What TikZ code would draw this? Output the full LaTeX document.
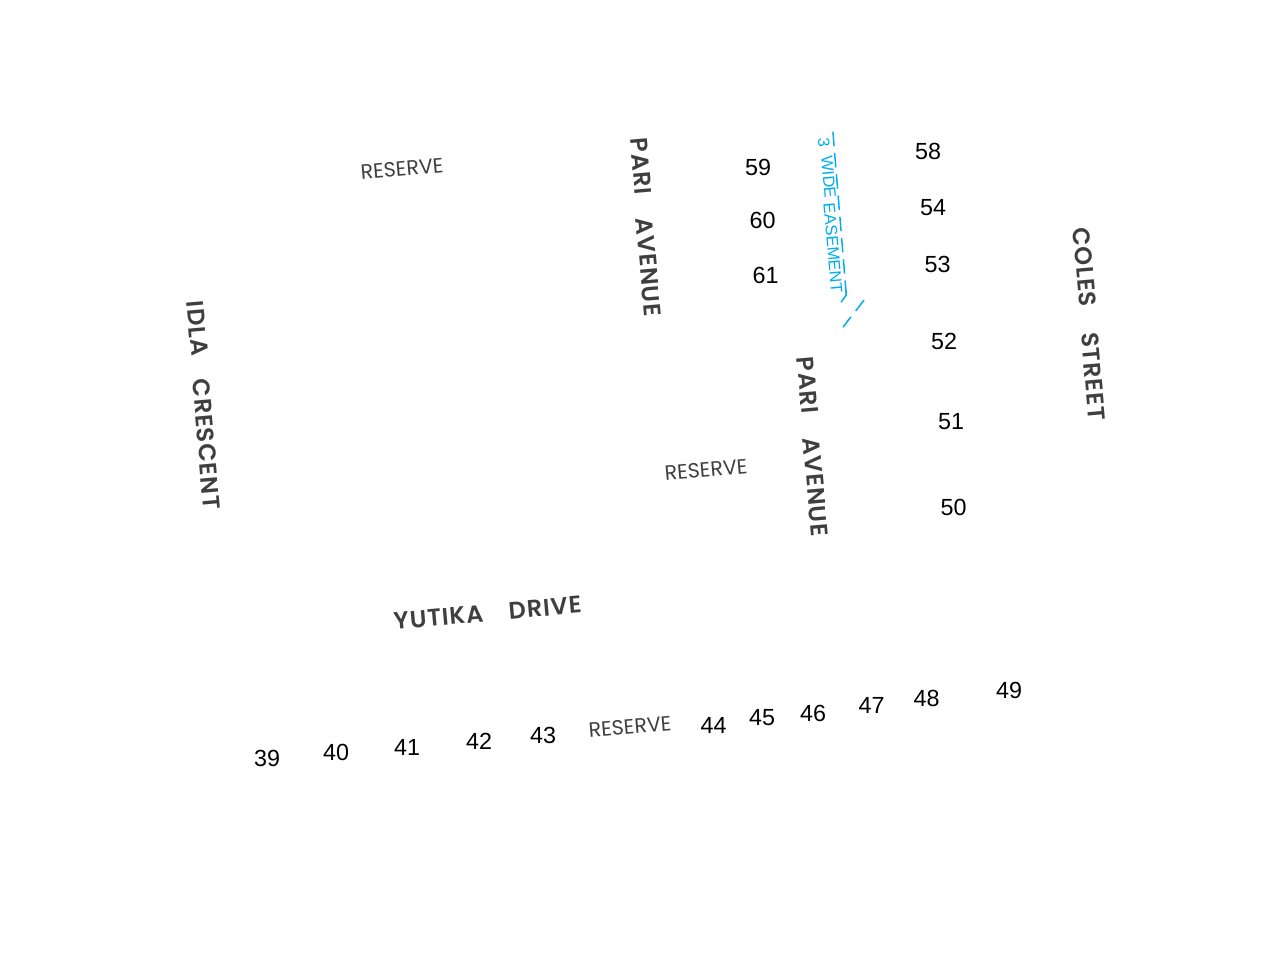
\documentclass[tikz,border=0pt]{standalone}
\usepackage{fontspec}
\setmainfont{Liberation Sans}
\newfontfamily\roadfont[LetterSpace=4]{Poppins SemiBold}
\newfontfamily\resfont{Poppins}
\definecolor{roadgrey}{HTML}{3F3F41}
\definecolor{easeblue}{HTML}{00AEEF}
\tikzset{x=0.75pt,y=-0.75pt,
 lot/.style={font=\fontsize{17.5pt}{20pt}\selectfont,text=black,inner sep=0pt},
 road/.style={font=\roadfont\fontsize{18pt}{20pt}\selectfont,text=roadgrey,inner sep=0pt},
 reserve/.style={font=\resfont\fontsize{15.5pt}{18pt}\selectfont,text=roadgrey,inner sep=0pt},
 ease/.style={font=\fontsize{12.3pt}{15pt}\selectfont,text=easeblue,inner sep=0pt},
 easeline/.style={draw=easeblue,line width=1.1pt}}
\begin{document}
\begin{tikzpicture}
\useasboundingbox (0,0) rectangle (1280,960);
\node[lot] (n59) at (758,167) {59};
\node[lot] (n60) at (762.5,220) {60};
\node[lot] (n61) at (765.5,275) {61};
\node[lot] (n58) at (928,151) {58};
\node[lot] (n54) at (933,207.5) {54};
\node[lot] (n53) at (937.5,264) {53};
\node[lot] (n52) at (944,341) {52};
\node[lot] (n51) at (951,422) {51};
\node[lot] (n50) at (953.5,507) {50};
\node[lot] (n49) at (1009,690) {49};
\node[lot] (n48) at (926.5,698) {48};
\node[lot] (n47) at (871.5,705) {47};
\node[lot] (n46) at (813,713) {46};
\node[lot] (n45) at (762,718) {45};
\node[lot] (n44) at (713.5,725) {44};
\node[lot] (n43) at (543,735) {43};
\node[lot] (n42) at (479,741) {42};
\node[lot] (n41) at (407,747) {41};
\node[lot] (n40) at (336,752) {40};
\node[lot] (n39) at (267,758) {39};
\node[reserve,rotate=5] (r1) at (402,169) {RESERVE};
\node[reserve,rotate=5] (r2) at (706,470) {RESERVE};
\node[reserve,rotate=5] (r3) at (630,727) {RESERVE};
\node[road,rotate=5] (y1) at (438.5,617.5) {\addfontfeature{LetterSpace=3.5}YUTIKA};
\node[road,rotate=5] (y2) at (545,607.5) {DRIVE};
\node[road,rotate=-85] (p1) at (641,166.5) {PARI};
\node[road,rotate=-85] (p2) at (648.5,267) {AVENUE};
\node[road,rotate=-85] (p3) at (807.5,385.5) {PARI};
\node[road,rotate=-85] (p4) at (815.5,487) {AVENUE};
\node[road,rotate=-85] (i1) at (197.5,328.5) {IDLA};
\node[road,rotate=-85] (i2) at (206.5,444) {CRESCENT};
\node[road,rotate=-85] (c1) at (1084.5,267) {COLES};
\node[road,rotate=-85] (c2) at (1093.5,376.5) {STREET};
\node[ease,rotate=-85] (e1) at (824,143) {3};
\node[ease,rotate=-85] (e2) at (828.5,177) {WIDE};
\node[ease,rotate=-85] (e3) at (833,248) {EASEMENT};
\coordinate (a) at (832.9,131.7);
\coordinate (b) at (846.3,295);
\coordinate (c) at (841,302.3);
\coordinate (d1) at (864,300);
\coordinate (d2) at (855.7,311);
\coordinate (d3) at (851,316.7);
\coordinate (d4) at (843,327.3);
\draw[easeline,dash pattern=on 10.8pt off 5.2pt] (a) -- (b);
\draw[easeline] (845.9,290) -- (b) -- (c);
\draw[easeline] (d1) -- (d2);
\draw[easeline] (d3) -- (d4);
\end{tikzpicture}
\end{document}
